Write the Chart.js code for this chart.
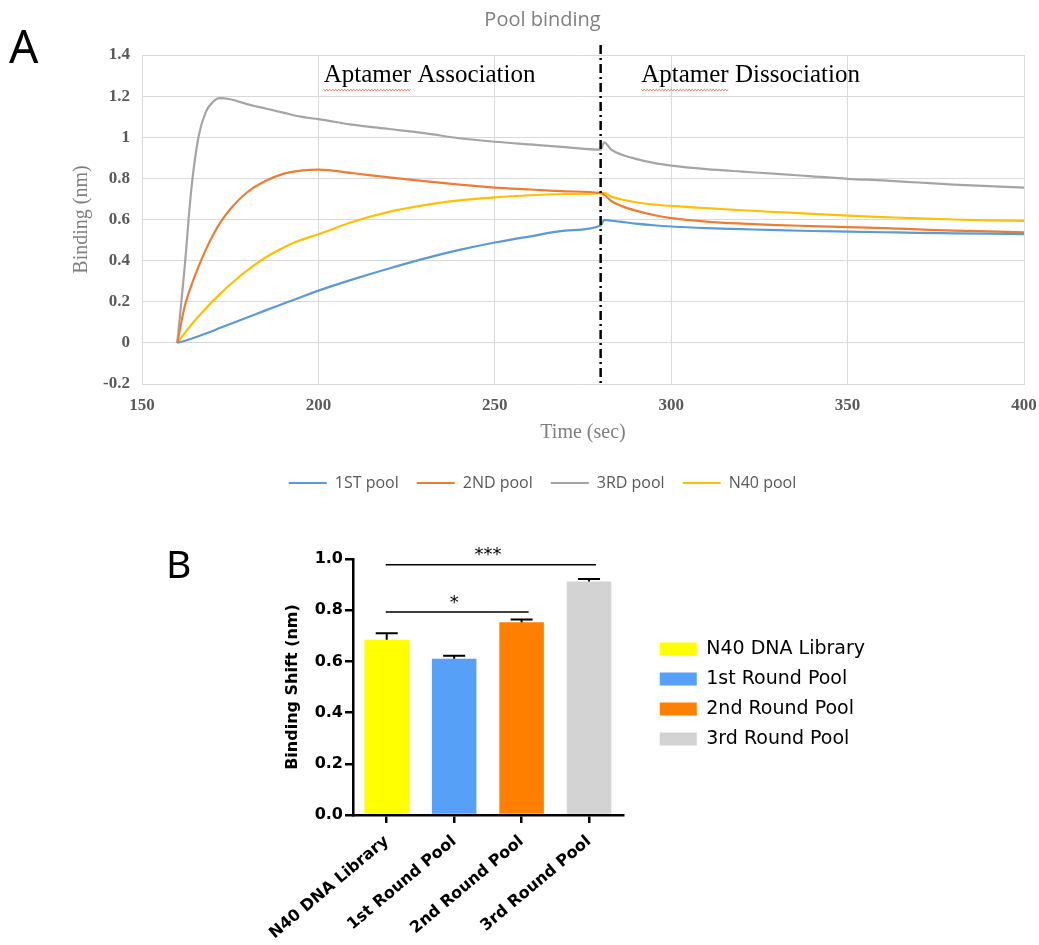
<!DOCTYPE html>
<html>
<head>
<meta charset="utf-8">
<title>Pool binding</title>
<script src="https://cdn.jsdelivr.net/npm/chart.js@4.4.0/dist/chart.umd.min.js"></script>
<style>
  html, body { margin: 0; padding: 0; background: #fff; overflow: hidden; }
  #page { position: relative; width: 1039px; height: 945px; overflow: hidden; }
  #chartA { position: absolute; left: 0; top: 0; }
  #chartB { position: absolute; left: 150px; top: 520px; }
  .panel { position: absolute; font-family: 'Noto Sans', sans-serif; color: #000; line-height: 1; }
</style>
</head>
<body>
<div id="page">
  <canvas id="chartA" width="1048" height="510"></canvas>
  <canvas id="chartB" width="889" height="425"></canvas>
  <div class="panel" style="left:9px;top:22px;font-size:46px">A</div>
  <div class="panel" style="left:166px;top:543px;font-size:39px">B</div>
</div>
<script>
/* DATA - PANEL A (binding curves, nm vs sec) */
const times = [160, 162, 164, 166, 168, 170, 172, 175, 180, 185,
               190, 195, 200, 210, 220, 230, 240, 250, 260, 270,
               280, 281, 283, 286, 290, 295, 300, 310, 320, 330,
               340, 350, 360, 370, 380, 390, 400];
const pool1st = [0, 0.009, 0.02, 0.032, 0.045, 0.058, 0.072, 0.092, 0.125, 0.158,
                 0.19, 0.222, 0.254, 0.31, 0.362, 0.41, 0.452, 0.488, 0.518, 0.546,
                 0.571, 0.598, 0.594, 0.588, 0.58, 0.572, 0.566, 0.558, 0.553, 0.548,
                 0.544, 0.541, 0.538, 0.535, 0.533, 0.531, 0.529];
const pool2nd = [0, 0.17, 0.28, 0.37, 0.45, 0.52, 0.58, 0.65, 0.735, 0.787,
                 0.822, 0.838, 0.843, 0.825, 0.805, 0.787, 0.77, 0.755, 0.746, 0.737,
                 0.728, 0.72, 0.69, 0.665, 0.643, 0.622, 0.607, 0.59, 0.58, 0.573,
                 0.568, 0.563, 0.558, 0.552, 0.546, 0.542, 0.538];
const pool3rd = [0, 0.35, 0.75, 1.0, 1.12, 1.17, 1.19, 1.185, 1.16, 1.14,
                 1.12, 1.10, 1.088, 1.06, 1.04, 1.02, 0.995, 0.978, 0.965, 0.952,
                 0.94, 0.975, 0.94, 0.915, 0.895, 0.875, 0.862, 0.845, 0.833, 0.822,
                 0.81, 0.798, 0.79, 0.78, 0.77, 0.762, 0.755];
const poolN40 = [0, 0.045, 0.088, 0.128, 0.166, 0.202, 0.236, 0.284, 0.355, 0.415,
                 0.463, 0.5, 0.528, 0.59, 0.637, 0.67, 0.693, 0.708, 0.718, 0.724,
                 0.728, 0.73, 0.712, 0.697, 0.684, 0.673, 0.666, 0.655, 0.645, 0.636,
                 0.627, 0.619, 0.612, 0.605, 0.6, 0.596, 0.593];
const seriesNames = ['1ST pool', '2ND pool', '3RD pool', 'N40 pool'];
const switchTime = 280;
const phaseLabels = ['Aptamer Association', 'Aptamer Dissociation'];
const phaseStart = [201.5, 291.5];
const phaseLevel = 1.30;

/* DATA - PANEL B (binding shift bars) */
const categoriesB = ['N40 DNA Library', '1st Round Pool', '2nd Round Pool', '3rd Round Pool'];
const shiftMeans = [0.685, 0.61, 0.753, 0.912];
const shiftErrors = [0.025, 0.012, 0.011, 0.01];
const sigPairs = [[0, 3], [0, 2]];
const sigLevels = [0.978, 0.793];
const sigMarks = ['***', '*'];

const lineColors = ['#5b9bd5', '#ed7d31', '#a5a5a5', '#ffc000'];
const barColors = ['#ffff00', '#56a0f8', '#ff7f00', '#d3d3d3'];

/* PLUGIN: dash-dot switch line + phase labels */
const phasePlugin = {
  id: 'phases',
  afterDatasetsDraw(chart) {
    const { ctx, chartArea, scales: { x, y } } = chart;
    const px = x.getPixelForValue(switchTime);
    ctx.save();
    ctx.strokeStyle = '#000';
    ctx.lineWidth = 2.5;
    ctx.setLineDash([9, 4, 2, 4]);
    ctx.beginPath();
    ctx.moveTo(px, chartArea.top - 10);
    ctx.lineTo(px, chartArea.bottom);
    ctx.stroke();
    ctx.setLineDash([]);

    ctx.font = '25px "Liberation Serif"';
    ctx.fillStyle = '#000';
    ctx.textBaseline = 'middle';
    phaseLabels.forEach((txt, i) => {
      const lx = x.getPixelForValue(phaseStart[i]);
      const ly = y.getPixelForValue(phaseLevel);
      ctx.fillText(txt, lx, ly);
      // spell-check squiggle under the first word
      const w = ctx.measureText(txt.split(' ')[0]).width;
      ctx.strokeStyle = '#e0403a';
      ctx.lineWidth = 0.8;
      ctx.beginPath();
      for (let k = 0, n = 0; k <= w; k += 1.5, n++) {
        ctx.lineTo(lx + k, ly + 14 + (n % 2 ? 1.2 : -0.2));
      }
      ctx.stroke();
    });
    ctx.restore();
  },
};

/* PANEL A: POOL BINDING */
function renderChartA() {
  const ctx = document.getElementById('chartA').getContext('2d');
  const series = [pool1st, pool2nd, pool3rd, poolN40];
  const tickFont = { family: 'Liberation Serif', size: 17, weight: 'bold' };
  const titleFont = { family: 'Liberation Serif', size: 20 };

  new Chart(ctx, {
    type: 'line',
    data: {
      datasets: series.map((vals, i) => ({
        label: seriesNames[i],
        data: times.map((t, k) => ({ x: t, y: vals[k] })),
        borderColor: lineColors[i],
        backgroundColor: lineColors[i],
        borderWidth: 2.2,
        pointRadius: 0,
        cubicInterpolationMode: 'monotone',
      })),
    },
    options: {
      responsive: false,
      animation: false,
      layout: { padding: { left: 61, right: 24, top: 0, bottom: 9 } },
      plugins: {
        title: {
          display: true,
          text: 'Pool binding',
          color: '#7f7f7f',
          font: { family: 'Open Sans', size: 20, weight: 'normal' },
          padding: { top: 8, bottom: 23 },
        },
        legend: {
          position: 'bottom',
          labels: {
            usePointStyle: true,
            pointStyle: 'line',
            pointStyleWidth: 38,
            color: '#595959',
            font: { family: 'Open Sans', size: 16 },
            padding: 18,
          },
        },
        tooltip: { enabled: false },
      },
      scales: {
        x: {
          type: 'linear',
          min: 150,
          max: 400,
          ticks: { stepSize: 50, color: '#595959', font: tickFont, padding: 11 },
          grid: { color: '#d9d9d9', drawTicks: false },
          border: { color: '#d9d9d9' },
          title: {
            display: true,
            text: 'Time (sec)',
            color: '#7f7f7f',
            font: titleFont,
            padding: { top: 0, bottom: 12 },
          },
          afterFit: s => { s.height = 73; },
        },
        y: {
          min: -0.2,
          max: 1.4,
          ticks: {
            stepSize: 0.2,
            color: '#595959',
            font: tickFont,
            padding: 12,
            callback: v => String(Math.round(v * 10) / 10),
          },
          grid: { color: '#d9d9d9', drawTicks: false },
          border: { color: '#d9d9d9' },
          title: {
            display: true,
            text: 'Binding (nm)',
            color: '#7f7f7f',
            font: titleFont,
            padding: { top: 9, bottom: 0 },
          },
          afterFit: s => { s.width = 81; },
        },
      },
    },
    plugins: [phasePlugin],
  });
}

/* PLUGIN: error bars + significance brackets */
const statsPlugin = {
  id: 'stats',
  afterDatasetsDraw(chart) {
    const { ctx, scales: { x, y } } = chart;
    const meta = chart.getDatasetMeta(0);
    ctx.save();
    ctx.strokeStyle = '#000';
    ctx.lineWidth = 2;
    meta.data.forEach((bar, i) => {
      const top = y.getPixelForValue(shiftMeans[i] + shiftErrors[i]);
      ctx.beginPath();
      ctx.moveTo(bar.x, bar.y);
      ctx.lineTo(bar.x, top);
      ctx.moveTo(bar.x - 11, top);
      ctx.lineTo(bar.x + 11, top);
      ctx.stroke();
    });

    ctx.lineWidth = 1.5;
    ctx.fillStyle = '#000';
    ctx.font = '18px "DejaVu Sans"';
    ctx.textAlign = 'center';
    ctx.textBaseline = 'middle';
    sigPairs.forEach(([a, b], i) => {
      const x1 = x.getPixelForValue(a) - 1;
      const x2 = x.getPixelForValue(b) + 7;
      const ly = y.getPixelForValue(sigLevels[i]);
      ctx.beginPath();
      ctx.moveTo(x1, ly);
      ctx.lineTo(x2, ly);
      ctx.stroke();
      ctx.fillText(sigMarks[i], (x.getPixelForValue(a) + x.getPixelForValue(b)) / 2, ly - 9);
    });
    ctx.restore();
  },
};

/* PANEL B: BINDING SHIFT */
function renderChartB() {
  const ctx = document.getElementById('chartB').getContext('2d');
  const axisFont = { family: 'DejaVu Sans', size: 16, weight: 'bold' };

  new Chart(ctx, {
    type: 'bar',
    data: {
      labels: categoriesB,
      datasets: [{
        label: 'Binding Shift',
        data: shiftMeans,
        backgroundColor: barColors,
        borderWidth: 0,
        barPercentage: 0.66,
        categoryPercentage: 1.0,
      }],
    },
    options: {
      responsive: false,
      animation: false,
      layout: { padding: { left: 0, right: 164, top: 39, bottom: 0 } },
      plugins: {
        legend: {
          position: 'right',
          fullSize: false,
          maxWidth: 320,
          title: { display: true, text: '', font: { size: 10 }, padding: { top: 1, bottom: 1 } },
          labels: {
            boxWidth: 37,
            boxHeight: 13,
            padding: 11,
            color: '#000',
            font: { family: 'DejaVu Sans', size: 19 },
            generateLabels: chart => chart.data.labels.map((l, i) => ({
              text: l,
              fillStyle: barColors[i],
              strokeStyle: barColors[i],
              fontColor: '#000',
              lineWidth: 0,
              hidden: false,
              index: i,
              datasetIndex: 0,
            })),
          },
        },
        tooltip: { enabled: false },
      },
      scales: {
        x: {
          ticks: {
            color: '#000',
            font: axisFont,
            minRotation: 40,
            maxRotation: 40,
            autoSkip: false,
            padding: 9,
          },
          grid: { offset: false, drawOnChartArea: false, tickLength: 8, color: '#000', lineWidth: 2.5 },
          border: { color: '#000', width: 2.5 },
          afterFit: s => { s.height = 130; },
        },
        y: {
          min: 0,
          max: 1.0,
          ticks: {
            stepSize: 0.2,
            color: '#000',
            font: axisFont,
            padding: 2,
            callback: v => v.toFixed(1),
          },
          grid: { drawOnChartArea: false, tickLength: 8, color: '#000', lineWidth: 2.5 },
          border: { color: '#000', width: 2.5 },
          title: {
            display: true,
            text: 'Binding Shift (nm)',
            color: '#000',
            font: axisFont,
            padding: { top: 133, bottom: 0 },
          },
          afterFit: s => { s.width = 203; },
        },
        // empty spacer axis between plot and legend
        y2: {
          type: 'linear',
          position: 'right',
          display: true,
          grid: { display: false },
          ticks: { display: false },
          border: { display: false },
          afterFit: s => { s.width = 26; },
        },
      },
    },
    plugins: [statsPlugin],
  });
}

/* INIT */
renderChartA();
renderChartB();
</script>
</body>
</html>
